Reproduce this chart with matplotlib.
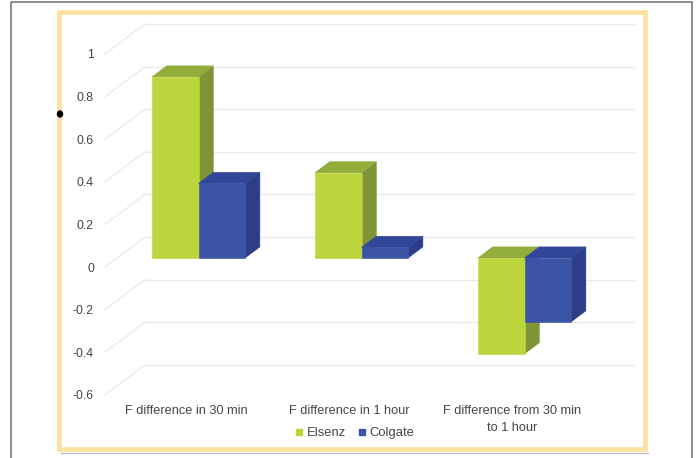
import matplotlib
matplotlib.use("Agg")
import matplotlib.pyplot as plt
from matplotlib.patches import Polygon, Rectangle, Ellipse
from matplotlib.lines import Line2D

plt.rcParams['font.family'] = ['Liberation Sans', 'DejaVu Sans']

# ---- data ----
categories = ["F difference in 30 min", "F difference in 1 hour",
              "F difference from 30 min\nto 1 hour"]
series_names = ["Elsenz", "Colgate"]
elsenz = [0.85, 0.40, -0.45]
colgate = [0.35, 0.05, -0.30]
y_ticks = [-0.6, -0.4, -0.2, 0, 0.2, 0.4, 0.6, 0.8, 1]
y_tick_labels = ["-0.6", "-0.4", "-0.2", "0", "0.2", "0.4", "0.6", "0.8", "1"]

# ---- styling ----
W, H = 697, 458
face = {"Elsenz": ("#BDD53C", "#93AD3B", "#7E9436"),
        "Colgate": ("#3B54A5", "#30479A", "#2E3D88")}
text_col = "#454545"
grid_col = "#EBEBEB"

fig = plt.figure(figsize=(W / 100, H / 100), dpi=100)

# background layer in pixel units for the frames
bg = fig.add_axes([0, 0, 1, 1], zorder=0)
bg.set_xlim(0, W)
bg.set_ylim(H, 0)
bg.axis("off")
bg.add_patch(Rectangle((11, 2), 681, 470, fill=False, edgecolor="#6E6E6E", lw=1.1))
bg.add_line(Line2D([61, 648], [452.8, 452.8], color="#B8B8B8", lw=0.9))
bg.add_patch(Rectangle((59.2, 11.7), 586, 437.5, fill=False, edgecolor="#FBE0A0", lw=3.3))
bg.add_patch(Ellipse((60, 114), 5, 6, color="black"))

# plot area: front plane of the 3-D box
x_min, x_max = -0.5, 2.5
y_min, y_max = -0.6, 1.0
px_per_cat = 163.0
px_per_val = 213.0
left_px, zero_px = 105.0, 267.0
ax_left = left_px / W
ax_w = px_per_cat * (x_max - x_min) / W
ax_bottom = (H - (zero_px - px_per_val * y_min)) / H
ax_h = px_per_val * (y_max - y_min) / H
ax = fig.add_axes([ax_left, ax_bottom, ax_w, ax_h], zorder=1)
ax.set_xlim(x_min, x_max)
ax.set_ylim(y_min, y_max)
ax.patch.set_alpha(0)
for s in ax.spines.values():
    s.set_visible(False)

# depth vector of the box, in data units
DX = 40.0 / px_per_cat
DY = 30.0 / px_per_val
d_front, d_back = 0.30, 0.67

# back wall gridlines and side-wall diagonals
for v in y_ticks:
    ax.add_line(Line2D([x_min + DX, x_max + DX], [v + DY, v + DY],
                       color=grid_col, lw=1.0, clip_on=False, zorder=1))
    ax.add_line(Line2D([x_min, x_min + DX], [v, v + DY],
                       color=grid_col, lw=1.0, clip_on=False, zorder=1))

# bars
n_series = 2
gap = 1.5
bar_w = 1.0 / (n_series + gap)
fx, fy = d_front * DX, d_front * DY
bx, by = d_back * DX, d_back * DY
z = 2
for i in range(len(categories)):
    for j, (name, vals) in enumerate(zip(series_names, [elsenz, colgate])):
        v = vals[i]
        x0 = i - n_series * bar_w / 2 + j * bar_w
        x1 = x0 + bar_w
        lo, hi = min(0, v), max(0, v)
        c_front, c_top, c_side = face[name]
        side = [(x1 + fx, lo + fy), (x1 + bx, lo + by), (x1 + bx, hi + by), (x1 + fx, hi + fy)]
        top = [(x0 + fx, hi + fy), (x1 + fx, hi + fy), (x1 + bx, hi + by), (x0 + bx, hi + by)]
        front = [(x0 + fx, lo + fy), (x1 + fx, lo + fy), (x1 + fx, hi + fy), (x0 + fx, hi + fy)]
        for poly, col in ((side, c_side), (top, c_top), (front, c_front)):
            ax.add_patch(Polygon(poly, closed=True, facecolor=col, edgecolor=col,
                                 lw=0.4, clip_on=False, zorder=z))
        z += 1

# axes labels
ax.set_yticks(y_ticks, y_tick_labels)
ax.set_xticks(range(len(categories)), categories)
ax.tick_params(axis="y", length=0, pad=8.0, labelsize=8.8, labelcolor=text_col)
ax.tick_params(axis="x", length=0, pad=7.6, labelsize=9.2, labelcolor=text_col)
for lab in ax.get_xticklabels():
    lab.set_linespacing(1.55)

# legend
handles = [Line2D([], [], marker="s", linestyle="none", markersize=4.5,
                  markerfacecolor=face[n][0], markeredgecolor=face[n][0])
           for n in series_names]
fig.legend(handles, series_names, loc="center", ncol=2, frameon=False,
           bbox_to_anchor=(355 / W, 1 - 433 / H), fontsize=9.4,
           handlelength=0.6, handletextpad=0.3, columnspacing=0.9,
           labelcolor=text_col, borderpad=0)

fig.savefig("out.png", dpi=100)
